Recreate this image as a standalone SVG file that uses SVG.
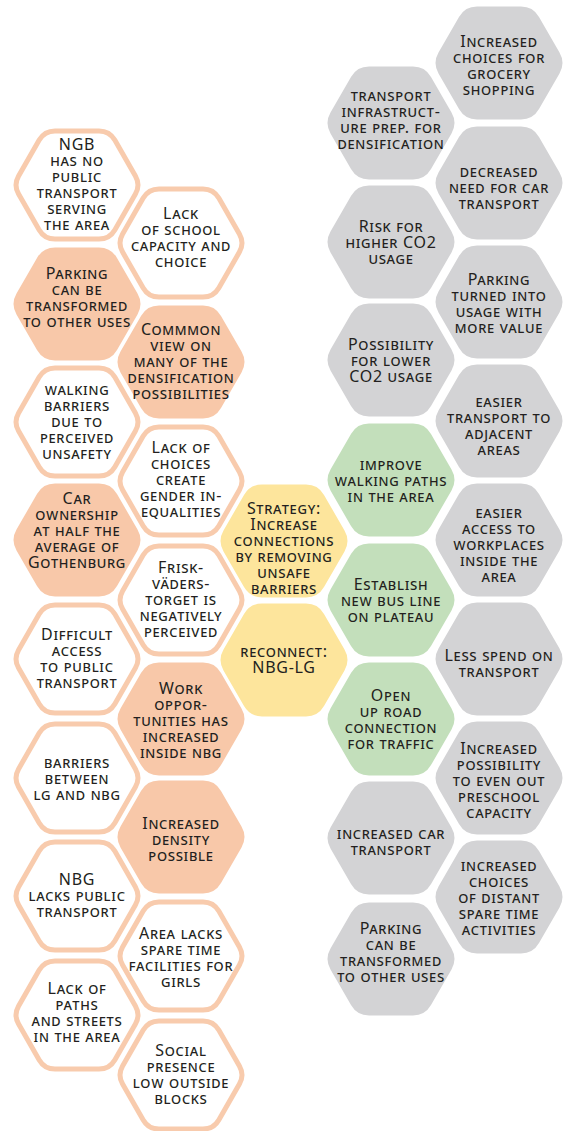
<svg xmlns="http://www.w3.org/2000/svg" xmlns:xlink="http://www.w3.org/1999/xlink" width="563" height="1131" viewBox="0 0 563 1131">
<defs>
<path id="hf" d="M60.5,-10.4 Q66.5,0 60.5,10.4 L40,46.1 Q34,56.5 22,56.5 L-22,56.5 Q-34,56.5 -40,46.1 L-60.5,10.4 Q-66.5,0 -60.5,-10.4 L-40,-46.1 Q-34,-56.5 -22,-56.5 L22,-56.5 Q34,-56.5 40,-46.1 Z"/>
<path id="ho" d="M58.4,-9.1 Q63.6,0 58.4,9.1 L37.8,44.9 Q32.5,54 22,54 L-22,54 Q-32.5,54 -37.8,44.9 L-58.4,9.1 Q-63.6,0 -58.4,-9.1 L-37.8,-44.9 Q-32.5,-54 -22,-54 L22,-54 Q32.5,-54 37.8,-44.9 Z"/>
</defs>
<style>
.pf{fill:#F8C8A9}
.po{fill:#FFFFFF;stroke:#F8CBAD;stroke-width:5}
.yf{fill:#FDE59C}
.gf{fill:#C3DFBB}
.gr{fill:#D3D3D5}
text{font-family:"Noto Sans","Open Sans",sans-serif;font-size:16px;font-variant:small-caps;text-anchor:middle;fill:#231F20;letter-spacing:0.7px}
</style>
<rect width="563" height="1131" fill="#FFFFFF"/>

<g id="a1"><use href="#ho" x="77" y="185" class="po"/>
<text><tspan x="77" y="150">NGB</tspan><tspan x="77" y="166">has no</tspan><tspan x="77" y="182">public</tspan><tspan x="77" y="198">transport</tspan><tspan x="77" y="214">serving</tspan><tspan x="77" y="230">the area</tspan></text></g>
<g id="a2"><use href="#hf" x="77" y="304" class="pf"/>
<text><tspan x="77" y="279">Parking</tspan><tspan x="77" y="295">can be</tspan><tspan x="77" y="311">transformed</tspan><tspan x="77" y="327">to other uses</tspan></text></g>
<g id="a3"><use href="#ho" x="77" y="422" class="po"/>
<text><tspan x="77" y="395">walking</tspan><tspan x="77" y="411">barriers</tspan><tspan x="77" y="427">due to</tspan><tspan x="77" y="443">perceived</tspan><tspan x="77" y="459">unsafety</tspan></text></g>
<g id="a4"><use href="#hf" x="77" y="540" class="pf"/>
<text><tspan x="77" y="504">Car</tspan><tspan x="77" y="520">ownership</tspan><tspan x="77" y="536">at half the</tspan><tspan x="77" y="552">average of</tspan><tspan x="77" y="568">Gothenburg</tspan></text></g>
<g id="a5"><use href="#ho" x="77" y="659" class="po"/>
<text><tspan x="77" y="640">Difficult</tspan><tspan x="77" y="656">access</tspan><tspan x="77" y="672">to public</tspan><tspan x="77" y="688">transport</tspan></text></g>
<g id="a6"><use href="#ho" x="77" y="778" class="po"/>
<text><tspan x="77" y="768">barriers</tspan><tspan x="77" y="784">between</tspan><tspan x="77" y="800">lg and nbg</tspan></text></g>
<g id="a7"><use href="#ho" x="77" y="896" class="po"/>
<text><tspan x="77" y="885">NBG</tspan><tspan x="77" y="901">lacks public</tspan><tspan x="77" y="917">transport</tspan></text></g>
<g id="a8"><use href="#ho" x="77" y="1015" class="po"/>
<text><tspan x="77" y="994">Lack of</tspan><tspan x="77" y="1010">paths</tspan><tspan x="77" y="1026">and streets</tspan><tspan x="77" y="1042">in the area</tspan></text></g>

<g id="b1"><use href="#ho" x="181" y="243" class="po"/>
<text><tspan x="181" y="219">Lack</tspan><tspan x="181" y="235">of school</tspan><tspan x="181" y="251">capacity and</tspan><tspan x="181" y="267">choice</tspan></text></g>
<g id="b2"><use href="#hf" x="181" y="362" class="pf"/>
<text><tspan x="181" y="335">Commmon</tspan><tspan x="181" y="351">view on</tspan><tspan x="181" y="367">many of the</tspan><tspan x="181" y="383">densification</tspan><tspan x="181" y="399">possibilities</tspan></text></g>
<g id="b3"><use href="#ho" x="181" y="481" class="po"/>
<text><tspan x="181" y="453">Lack of</tspan><tspan x="181" y="469">choices</tspan><tspan x="181" y="485">create</tspan><tspan x="181" y="501">gender in-</tspan><tspan x="181" y="517">equalities</tspan></text></g>
<g id="b4"><use href="#ho" x="181" y="600" class="po"/>
<text><tspan x="181" y="573">Frisk-</tspan><tspan x="181" y="589">väders-</tspan><tspan x="181" y="605">torget is</tspan><tspan x="181" y="621">negatively</tspan><tspan x="181" y="637">perceived</tspan></text></g>
<g id="b5"><use href="#hf" x="181" y="719" class="pf"/>
<text><tspan x="181" y="694">Work</tspan><tspan x="181" y="710">oppor-</tspan><tspan x="181" y="726">tunities has</tspan><tspan x="181" y="742">increased</tspan><tspan x="181" y="758">inside nbg</tspan></text></g>
<g id="b6"><use href="#hf" x="181" y="837" class="pf"/>
<text><tspan x="181" y="829">Increased</tspan><tspan x="181" y="845">density</tspan><tspan x="181" y="861">possible</tspan></text></g>
<g id="b7"><use href="#ho" x="181" y="956" class="po"/>
<text><tspan x="181" y="939">Area lacks</tspan><tspan x="181" y="955">spare time</tspan><tspan x="181" y="971">facilities for</tspan><tspan x="181" y="987">girls</tspan></text></g>
<g id="b8"><use href="#ho" x="181" y="1075" class="po"/>
<text><tspan x="181" y="1056">Social</tspan><tspan x="181" y="1072">presence</tspan><tspan x="181" y="1088">low outside</tspan><tspan x="181" y="1104">blocks</tspan></text></g>

<g id="y1"><use href="#hf" x="284" y="541" class="yf"/>
<text><tspan x="284" y="514">Strategy:</tspan><tspan x="284" y="530">Increase</tspan><tspan x="284" y="546">connections</tspan><tspan x="284" y="562">by removing</tspan><tspan x="284" y="578">unsafe</tspan><tspan x="284" y="594">barriers</tspan></text></g>
<g id="y2"><use href="#hf" x="284" y="660" class="yf"/>
<text><tspan x="284" y="657">reconnect:</tspan><tspan x="284" y="673">NBG-LG</tspan></text></g>

<g id="g1"><use href="#hf" x="391" y="480" class="gf"/>
<text><tspan x="391" y="470">improve</tspan><tspan x="391" y="486">walking paths</tspan><tspan x="391" y="502">in the area</tspan></text></g>
<g id="g2"><use href="#hf" x="391" y="600" class="gf"/>
<text><tspan x="391" y="590">Establish</tspan><tspan x="391" y="606">new bus line</tspan><tspan x="391" y="622">on plateau</tspan></text></g>
<g id="g3"><use href="#hf" x="391" y="719" class="gf"/>
<text><tspan x="391" y="701">Open</tspan><tspan x="391" y="717">up road</tspan><tspan x="391" y="733">connection</tspan><tspan x="391" y="749">for traffic</tspan></text></g>

<g id="c1"><use href="#hf" x="391" y="123" class="gr"/>
<text><tspan x="391" y="101">transport</tspan><tspan x="391" y="117">infrastruct-</tspan><tspan x="391" y="133">ure prep. for</tspan><tspan x="391" y="149">densification</tspan></text></g>
<g id="c2"><use href="#hf" x="391" y="242" class="gr"/>
<text><tspan x="391" y="232">Risk for</tspan><tspan x="391" y="248">higher CO2</tspan><tspan x="391" y="264">usage</tspan></text></g>
<g id="c3"><use href="#hf" x="391" y="360" class="gr"/>
<text><tspan x="391" y="350">Possibility</tspan><tspan x="391" y="366">for lower</tspan><tspan x="391" y="382">CO2 usage</tspan></text></g>
<g id="c7"><use href="#hf" x="391" y="838" class="gr"/>
<text><tspan x="391" y="839">increased car</tspan><tspan x="391" y="855">transport</tspan></text></g>
<g id="c8"><use href="#hf" x="391" y="959" class="gr"/>
<text><tspan x="391" y="934">Parking</tspan><tspan x="391" y="950">can be</tspan><tspan x="391" y="966">transformed</tspan><tspan x="391" y="982">to other uses</tspan></text></g>

<g id="d1"><use href="#hf" x="499" y="63" class="gr"/>
<text><tspan x="499" y="47">Increased</tspan><tspan x="499" y="63">choices for</tspan><tspan x="499" y="79">grocery</tspan><tspan x="499" y="95">shopping</tspan></text></g>
<g id="d2"><use href="#hf" x="499" y="183" class="gr"/>
<text><tspan x="499" y="177">decreased</tspan><tspan x="499" y="193">need for car</tspan><tspan x="499" y="209">transport</tspan></text></g>
<g id="d3"><use href="#hf" x="499" y="302" class="gr"/>
<text><tspan x="499" y="285">Parking</tspan><tspan x="499" y="301">turned into</tspan><tspan x="499" y="317">usage with</tspan><tspan x="499" y="333">more value</tspan></text></g>
<g id="d4"><use href="#hf" x="499" y="421" class="gr"/>
<text><tspan x="499" y="407">easier</tspan><tspan x="499" y="423">transport to</tspan><tspan x="499" y="439">adjacent</tspan><tspan x="499" y="455">areas</tspan></text></g>
<g id="d5"><use href="#hf" x="499" y="540" class="gr"/>
<text><tspan x="499" y="518">easier</tspan><tspan x="499" y="534">access to</tspan><tspan x="499" y="550">workplaces</tspan><tspan x="499" y="566">inside the</tspan><tspan x="499" y="582">area</tspan></text></g>
<g id="d6"><use href="#hf" x="499" y="659" class="gr"/>
<text><tspan x="499" y="661">Less spend on</tspan><tspan x="499" y="677">transport</tspan></text></g>
<g id="d7"><use href="#hf" x="499" y="778" class="gr"/>
<text><tspan x="499" y="754">Increased</tspan><tspan x="499" y="770">possibility</tspan><tspan x="499" y="786">to even out</tspan><tspan x="499" y="802">preschool</tspan><tspan x="499" y="818">capacity</tspan></text></g>
<g id="d8"><use href="#hf" x="499" y="897" class="gr"/>
<text><tspan x="499" y="871">increased</tspan><tspan x="499" y="887">choices</tspan><tspan x="499" y="903">of distant</tspan><tspan x="499" y="919">spare time</tspan><tspan x="499" y="935">activities</tspan></text></g>
</svg>
